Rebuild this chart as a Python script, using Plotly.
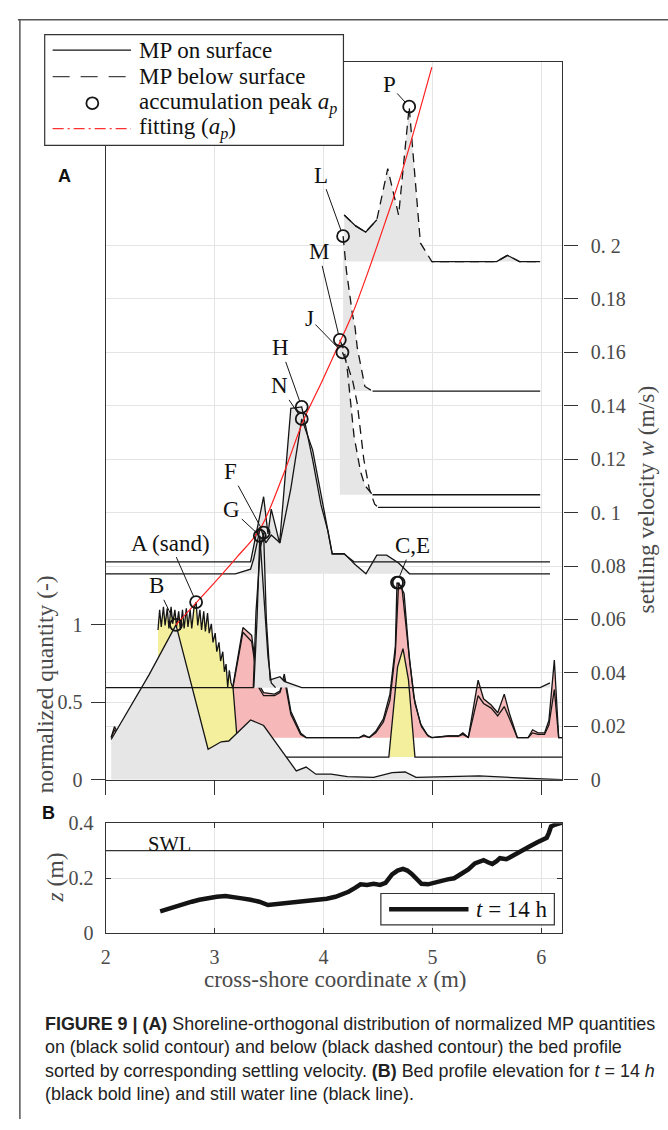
import plotly.graph_objects as go

FIG_W, FIG_H = 668, 1130

# ---------------- Panel A data ----------------
# 1 unit of normalized quantity (left axis) = 0.058 m/s on the settling-velocity axis (right)
W_PER_Q = 0.058
Q_TOP = 4.633
X_RANGE = [2.0, 6.195]

# settling velocity of every MP distribution (baseline), m/s
W_P, W_L, W_M, W_J = 0.194, 0.1455, 0.1067, 0.102
W_H, W_N, W_F, W_G = 0.0816, 0.0771, 0.0345, 0.0345
W_C, W_E, W_A, W_B = 0.0158, 0.0158, 0.0085, 0.0

# normalized quantities along the cross-shore coordinate
P_X = [4.19, 4.295, 4.387, 4.49, 4.59, 4.69, 4.787, 4.89, 4.995, 5.59, 5.69, 5.80, 5.99]
P_Q = [0.30, 0.23, 0.19, 0.27, 0.60, 0.30, 1.00, 0.12, 0.0, 0.0, 0.04, 0.0, 0.0]
PS_X = [4.19, 4.295, 4.387, 4.49, None, 4.995, 5.59, 5.69, 5.80, 5.99]
PS_Q = [0.30, 0.23, 0.19, 0.27, None, 0.0, 0.0, 0.04, 0.0, 0.0]

L_X = [4.18, 4.21, 4.265, 4.29, 4.31, 4.38, 4.45]
L_Q = [1.00, 0.78, 0.50, 0.41, 0.28, 0.03, 0.0]
LS_X = [4.45, 5.99]
LS_Q = [0.0, 0.0]

M_X = [4.15, 4.19, 4.22, 4.28, 4.34, 4.38, 4.45]
M_Q = [1.00, 0.93, 0.80, 0.38, 0.15, 0.06, 0.0]
MS_X = [4.45, 5.99]
MS_Q = [0.0, 0.0]

J_X = [4.174, 4.22, 4.27, 4.31, 4.37, 4.42, 4.47, 4.50]
J_Q = [1.00, 0.92, 0.81, 0.67, 0.31, 0.12, 0.02, 0.0]
JS_X = [4.50, 5.99]
JS_Q = [0.0, 0.0]

H_X = [2.0, 3.33, 3.36, 3.45, 3.49, 3.52, 3.597, 3.70, 3.80, 3.90, 3.976, 4.04, 4.08, 4.19, 4.28, 6.08]
H_Q = [0.0, 0.0, 0.105, 0.42, 0.18, 0.34, 0.12, 0.99, 1.00, 0.66, 0.37, 0.20, 0.05, 0.05, 0.0, 0.0]

N_X = [2.0, 3.19, 3.33, 3.36, 3.42, 3.47, 3.52, 3.60, 3.70, 3.80, 3.90, 3.98, 4.05, 4.08,
       4.19, 4.29, 4.39, 4.49, 4.58, 4.69, 4.79, 6.08]
N_Q = [0.0, 0.0, 0.03, 0.10, 0.30, 0.20, 0.25, 0.20, 0.55, 1.00, 0.80, 0.50, 0.26, 0.13,
       0.13, 0.06, 0.0, 0.12, 0.12, 0.07, 0.0, 0.0]

F_X = [2.0, 3.355, 3.38, 3.42, 3.45, 3.475, 3.51, 3.60, 3.64, 3.80, 5.99, 6.08]
F_Q = [0.0, 0.0, 0.49, 0.90, 1.00, 0.44, 0.05, 0.07, 0.04, 0.0, 0.0, 0.03]
G_X = [3.36, 3.39, 3.415, 3.45, 3.49, 3.52, 3.56]
G_Q = [0.0, 0.45, 0.98, 0.60, 0.20, 0.03, 0.0]

C_X = [2.05, 2.08, 2.12, 2.3, 2.6, 3.0, 3.16, 3.21, 3.26, 3.34, 3.40, 3.45, 3.55, 3.60, 3.64, 3.70,
       3.79, 3.84, 4.33, 4.37, 4.42, 4.48, 4.55, 4.61, 4.66, 4.675, 4.72, 4.78, 4.83, 4.89, 4.95,
       4.99, 5.15, 5.24, 5.28, 5.33, 5.42, 5.47, 5.54, 5.60, 5.66, 5.71, 5.75, 5.78, 5.88, 5.92,
       5.97, 6.03, 6.07, 6.12, 6.16, 6.19]
C_Q = [0.0, 0.07, 0.02, 0.10, 0.20, 0.30, 0.30, 0.50, 0.71, 0.66, 0.35, 0.29, 0.28, 0.30, 0.41, 0.17,
       0.03, 0.0, 0.0, 0.017, 0.0, 0.04, 0.12, 0.28, 0.59, 1.00, 0.97, 0.57, 0.26, 0.09, 0.02,
       0.0, 0.01, 0.01, 0.03, 0.0, 0.37, 0.25, 0.21, 0.16, 0.28, 0.15, 0.07, 0.0, 0.0, 0.05,
       0.03, 0.03, 0.11, 0.50, 0.0, 0.0]
E_X = [2.05, 2.08, 2.12, 2.3, 2.6, 3.0, 3.16, 3.21, 3.26, 3.34, 3.40, 3.45, 3.55, 3.60, 3.64, 3.70,
       3.79, 3.84, 4.33, 4.37, 4.42, 4.48, 4.55, 4.61, 4.66, 4.69, 4.74, 4.79, 4.84, 4.90, 4.96,
       5.0, 5.15, 5.24, 5.28, 5.33, 5.42, 5.47, 5.54, 5.60, 5.66, 5.71, 5.75, 5.78, 5.88, 5.92,
       5.97, 6.03, 6.07, 6.12, 6.16, 6.19]
E_Q = [0.0, 0.05, 0.01, 0.08, 0.18, 0.28, 0.29, 0.48, 0.68, 0.62, 0.33, 0.27, 0.27, 0.29, 0.38, 0.15,
       0.02, 0.0, 0.0, 0.01, 0.0, 0.03, 0.10, 0.24, 0.55, 1.00, 0.93, 0.50, 0.22, 0.07, 0.01,
       0.0, 0.01, 0.01, 0.02, 0.0, 0.27, 0.22, 0.19, 0.14, 0.20, 0.12, 0.05, 0.0, 0.0, 0.03,
       0.02, 0.02, 0.08, 0.31, 0.0, 0.0]

A_X = [2.48, 2.495, 2.51, 2.53, 2.545, 2.565, 2.58, 2.60, 2.615, 2.635, 2.65, 2.67, 2.685, 2.705,
       2.72, 2.74, 2.755, 2.775, 2.79, 2.81, 2.83, 2.845, 2.865, 2.88, 2.90, 2.915, 2.935, 2.95,
       2.97, 2.985, 3.005, 3.02, 3.04, 3.055, 3.075, 3.09, 3.105, 3.12, 3.135, 3.15, 3.17, 3.20,
       3.22, 4.60, 4.66, 4.68, 4.73, 4.78, 4.84, 6.19]
A_Q = [0.82, 0.95, 0.84, 0.97, 0.85, 0.96, 0.83, 0.97, 0.86, 0.95, 0.84, 0.94, 0.82, 0.95,
       0.83, 0.96, 0.84, 0.95, 0.83, 0.96, 1.00, 0.85, 0.95, 0.82, 0.94, 0.81, 0.93, 0.80,
       0.86, 0.74, 0.80, 0.68, 0.74, 0.62, 0.68, 0.55, 0.60, 0.45, 0.56, 0.48, 0.44, 0.20,
       0.0, 0.0, 0.45, 0.58, 0.70, 0.50, 0.0, 0.0]

B_X = [2.05, 2.40, 2.645, 2.94, 3.06, 3.13, 3.33, 3.45, 3.75, 3.84, 3.93, 4.07, 4.22, 4.46,
       4.63, 4.75, 4.85, 5.43, 5.9, 6.19]
B_Q = [0.26, 0.68, 1.00, 0.197, 0.245, 0.25, 0.386, 0.35, 0.057, 0.082, 0.036, 0.036, 0.02,
       0.015, 0.046, 0.05, 0.015, 0.025, 0.008, 0.0]

# fitting curve through accumulation peaks (plotted in left-axis units)
FIT_X = [2.643, 2.834, 3.005, 3.201, 3.415, 3.627, 3.809, 3.991, 4.146, 4.265, 4.418, 4.569, 4.721, 4.995]
FIT_Q = [1.000, 1.145, 1.277, 1.434, 1.616, 1.962, 2.308, 2.579, 2.818, 3.006, 3.296, 3.604, 3.925, 4.600]

LEFT_TICKS = [0, 0.5, 1]
RIGHT_TICKS = [0, 0.02, 0.04, 0.06, 0.08, 0.1, 0.12, 0.14, 0.16, 0.18, 0.2]
RIGHT_TICKTEXT = ["0", "0.02", "0.04", "0.06", "0.08", "0. 1", "0.12", "0.14", "0.16", "0.18", "0. 2"]
X_TICKS = [2, 3, 4, 5, 6]

# ---------------- Panel B data ----------------
BED_X = [2.50, 2.56, 2.63, 2.70, 2.79, 2.86, 2.94, 3.02, 3.10, 3.17, 3.25, 3.33, 3.41, 3.49, 3.56,
         3.64, 3.72, 3.80, 3.88, 3.95, 4.03, 4.11, 4.17, 4.23, 4.29, 4.34, 4.40, 4.46, 4.52, 4.57,
         4.63, 4.68, 4.73, 4.77, 4.81, 4.86, 4.90, 4.96, 5.02, 5.08, 5.14, 5.20, 5.27, 5.33, 5.39,
         5.43, 5.47, 5.51, 5.55, 5.59, 5.62, 5.68, 5.73, 5.78, 5.84, 5.90, 5.96, 6.01, 6.05, 6.07,
         6.09, 6.13, 6.19]
BED_Z = [0.080, 0.088, 0.097, 0.104, 0.115, 0.122, 0.129, 0.133, 0.136, 0.133, 0.127, 0.122, 0.115,
         0.103, 0.106, 0.107, 0.110, 0.115, 0.119, 0.123, 0.126, 0.133, 0.141, 0.151, 0.165, 0.178,
         0.176, 0.180, 0.176, 0.183, 0.214, 0.228, 0.234, 0.228, 0.216, 0.196, 0.180, 0.178, 0.185,
         0.192, 0.196, 0.200, 0.216, 0.232, 0.254, 0.262, 0.266, 0.258, 0.252, 0.262, 0.273, 0.269,
         0.281, 0.293, 0.305, 0.317, 0.330, 0.341, 0.347, 0.365, 0.388, 0.395, 0.402]
SWL_Z = 0.3
B_YTICKS = [0, 0.2, 0.4]

# ---------------- styling ----------------
SERIF = "Liberation Serif, Times New Roman, serif"
SANS = "Liberation Sans, Arial, sans-serif"
GREY_FILL = "#e6e6e6"
RED_FILL = "#f6b8b8"
YEL_FILL = "#f3ef9c"
LINE = "#151515"
DASH = "9px,6px"
TICKC = "#4a4a4a"
GRIDC = "#e4e4e4"


def px(x):
    return x / FIG_W


def py(y):
    return 1 - y / FIG_H


def base(w):
    return w / W_PER_Q


fig = go.Figure()


def add_fill(x, q, w, color):
    b = base(w)
    fig.add_trace(go.Scatter(
        x=list(x) + list(x[::-1]), y=[b + v for v in q] + [b] * len(x),
        fill="toself", fillcolor=color, mode="lines", line=dict(width=0, color=color),
        hoverinfo="skip", xaxis="x", yaxis="y"))


def add_line(x, q, w, dash="solid"):
    b = base(w)
    fig.add_trace(go.Scatter(
        x=x, y=[None if v is None else b + v for v in q], mode="lines",
        line=dict(color=LINE, width=1.3, dash=dash), connectgaps=False,
        hoverinfo="skip", xaxis="x", yaxis="y"))


# red (C, E)
add_fill(C_X, C_Q, W_C, RED_FILL)
add_fill(E_X, E_Q, W_E, RED_FILL)
add_line(C_X, C_Q, W_C)
add_line(E_X, E_Q, W_E)
# yellow sand (A)
add_fill(A_X, A_Q, W_A, YEL_FILL)
add_line(A_X, A_Q, W_A)
# grey B
add_fill(B_X, B_Q, W_B, GREY_FILL)
add_line(B_X, B_Q, W_B)
# F, G, H, N
add_fill(F_X, F_Q, W_F, GREY_FILL)
add_fill(G_X, G_Q, W_G, GREY_FILL)
add_fill(H_X, H_Q, W_H, GREY_FILL)
add_fill(N_X, N_Q, W_N, GREY_FILL)
add_line(H_X, H_Q, W_H)
add_line(N_X, N_Q, W_N)
add_line(F_X, F_Q, W_F)
add_line(G_X, G_Q, W_G)
# M, J, L, P
add_fill(M_X, M_Q, W_M, GREY_FILL)
add_fill(L_X, L_Q, W_L, GREY_FILL)
add_fill(P_X, P_Q, W_P, GREY_FILL)
add_line(MS_X, MS_Q, W_M)
add_line(JS_X, JS_Q, W_J)
add_line(LS_X, LS_Q, W_L)
add_line(PS_X, PS_Q, W_P)
add_line(M_X, M_Q, W_M, DASH)
add_line(J_X, J_Q, W_J, DASH)
add_line(L_X, L_Q, W_L, DASH)
add_line(P_X, P_Q, W_P, DASH)

# fitting curve
fig.add_trace(go.Scatter(x=FIT_X, y=FIT_Q, mode="lines", line=dict(color="#ff2020", width=1.2, shape="spline"),
                         hoverinfo="skip", xaxis="x", yaxis="y"))

# accumulation peaks
SERIES = [("A (sand)", A_X, A_Q, W_A, -26, -59), ("B", B_X, B_Q, W_B, -19, -39),
          ("C,E", C_X, C_Q, W_C, 15, -37), ("", E_X, E_Q, W_E, 0, 0),
          ("F", F_X, F_Q, W_F, -33, -61), ("G", G_X, G_Q, W_G, -28, -26),
          ("H", H_X, H_Q, W_H, -21, -59), ("N", N_X, N_Q, W_N, -22, -33),
          ("J", J_X, J_Q, W_J, -33, -34), ("M", M_X, M_Q, W_M, -21, -88),
          ("L", L_X, L_Q, W_L, -22, -61), ("P", P_X, P_Q, W_P, -20, -22)]
pk_x, pk_y = [], []
annotations = []
for lab, xs, qs, w, ax, ay in SERIES:
    i = max(range(len(qs)), key=lambda k: qs[k])
    xx, yy = xs[i], base(w) + qs[i]
    pk_x.append(xx)
    pk_y.append(yy)
    if lab:
        annotations.append(dict(x=xx, y=yy, xref="x", yref="y", text=lab, showarrow=True, arrowhead=0,
                                arrowwidth=1, arrowcolor=LINE, ax=ax, ay=ay, standoff=6,
                                xanchor="center", yanchor="middle",
                                font=dict(family=SERIF, size=23, color="#111")))
fig.add_trace(go.Scatter(x=pk_x, y=pk_y, mode="markers",
                         marker=dict(symbol="circle-open", size=12, color=LINE, line=dict(width=1.8, color=LINE)),
                         hoverinfo="skip", xaxis="x", yaxis="y"))
# anchor trace for the settling-velocity axis (invisible)
fig.add_trace(go.Scatter(x=[X_RANGE[0]], y=[W_B], mode="markers", marker=dict(size=1, opacity=0),
                         hoverinfo="skip", xaxis="x", yaxis="y2"))

# panel B
fig.add_trace(go.Scatter(x=X_RANGE, y=[SWL_Z, SWL_Z], mode="lines", line=dict(color="#333", width=1.3),
                         hoverinfo="skip", xaxis="x2", yaxis="y3"))
fig.add_trace(go.Scatter(x=BED_X, y=BED_Z, mode="lines", line=dict(color="#141414", width=4.5),
                         hoverinfo="skip", xaxis="x2", yaxis="y3"))

tickfont = dict(family=SERIF, size=20, color=TICKC)
XD = [px(101.5), px(561.7)]
fig.update_layout(
    width=FIG_W, height=FIG_H, margin=dict(l=0, r=0, t=0, b=0),
    paper_bgcolor="white", plot_bgcolor="white", showlegend=False,
    xaxis=dict(domain=XD, range=X_RANGE, anchor="y", tickvals=X_TICKS, showticklabels=False,
               ticks="outside", ticklen=14, tickwidth=1.2, tickcolor="#333", showgrid=True,
               gridcolor=GRIDC, gridwidth=1.3, showline=True, linecolor="#333", linewidth=1.3,
               mirror=True, zeroline=False),
    yaxis=dict(domain=[py(784), py(52)], range=[0, Q_TOP], anchor="x", tickvals=LEFT_TICKS,
               ticktext=["0", "0.5", "1"], ticks="outside", ticklen=14, tickwidth=1.2, tickcolor="#333",
               showgrid=True, gridcolor=GRIDC, gridwidth=1.3, showline=True, linecolor="#333",
               linewidth=1.3, zeroline=False, tickfont=tickfont, ticklabelstandoff=4),
    yaxis2=dict(overlaying="y", side="right", anchor="x", range=[0, Q_TOP * W_PER_Q],
                tickvals=RIGHT_TICKS, ticktext=RIGHT_TICKTEXT, ticks="outside", ticklen=14,
                tickwidth=1.2, tickcolor="#333", showgrid=True, gridcolor=GRIDC, gridwidth=1.3,
                showline=True, linecolor="#333", linewidth=1.3, zeroline=False, tickfont=tickfont,
                ticklabelstandoff=9),
    xaxis2=dict(domain=XD, range=X_RANGE, anchor="y3", tickvals=X_TICKS, ticks="inside", ticklen=5,
                tickcolor="#333", showgrid=True, gridcolor=GRIDC, gridwidth=1.3, showline=True,
                linecolor="#333", linewidth=1.3, mirror="ticks", zeroline=False, tickfont=tickfont,
                ticklabelstandoff=5),
    yaxis3=dict(domain=[py(940.7), py(828.3)], range=[0, 0.4], anchor="x2", tickvals=B_YTICKS,
                ticktext=["0", "0.2", "0.4"], ticks="inside", ticklen=5, tickcolor="#333", showgrid=True,
                gridcolor=GRIDC, gridwidth=1.3, showline=True, linecolor="#333", linewidth=1.3,
                mirror="ticks", zeroline=False, tickfont=tickfont, ticklabelstandoff=7),
)

shapes = []
# outer frame
shapes.append(dict(type="line", xref="paper", yref="paper", x0=px(13), x1=1.0, y0=py(9), y1=py(9),
                   line=dict(color="#555", width=1.5), layer="above"))
shapes.append(dict(type="line", xref="paper", yref="paper", x0=px(15), x1=px(15), y0=py(9), y1=0,
                   line=dict(color="#555", width=1.5), layer="above"))
# legend of panel A
shapes.append(dict(type="rect", xref="paper", yref="paper", x0=px(40), x1=px(341), y0=py(137), y1=py(24),
                   fillcolor="white", line=dict(color="#333", width=1.2), layer="above"))
shapes.append(dict(type="line", xref="paper", yref="paper", x0=px(48), x1=px(127), y0=py(40), y1=py(40),
                   line=dict(color=LINE, width=1.2), layer="above"))
shapes.append(dict(type="line", xref="paper", yref="paper", x0=px(48), x1=px(127), y0=py(67), y1=py(67),
                   line=dict(color="#444", width=1.3, dash="17px,11px"), layer="above"))
shapes.append(dict(type="circle", xref="paper", yref="paper", x0=px(82), x1=px(94), y0=py(100), y1=py(88),
                   line=dict(color=LINE, width=1.8), layer="above"))
shapes.append(dict(type="line", xref="paper", yref="paper", x0=px(48), x1=px(127), y0=py(120), y1=py(120),
                   line=dict(color="#ff3030", width=1.2, dash="11px,4px,2px,4px"), layer="above"))
# legend of panel B
shapes.append(dict(type="rect", xref="paper", yref="paper", x0=px(378.7), x1=px(553.5), y0=py(932),
                   y1=py(900), fillcolor="white", line=dict(color="#333", width=1.2), layer="above"))
shapes.append(dict(type="line", xref="paper", yref="paper", x0=px(387), x1=px(467), y0=py(916), y1=py(916),
                   line=dict(color="#141414", width=4.5), layer="above"))
fig.update_layout(shapes=shapes)


def note(xp, yp, text, font, xanchor="center", angle=0):
    annotations.append(dict(x=px(xp), y=py(yp), xref="paper", yref="paper", text=text, showarrow=False,
                            xanchor=xanchor, yanchor="middle", textangle=angle, font=font))


legfont = dict(family=SERIF, size=23, color="#111")
for yy, txt in [(40, "MP on surface"), (67, "MP below surface"),
                (94, "accumulation peak <i>a</i><sub><i>p</i></sub>"),
                (120, "fitting (<i>a</i><sub><i>p</i></sub>)")]:
    note(133, yy, txt, legfont, xanchor="left")
note(473, 916, "<i>t</i> = 14 h", legfont, xanchor="left")
note(166, 850, "SWL", dict(family=SERIF, size=20.5, color="#111"))
# panel letters
note(60, 168, "<b>A</b>", dict(family=SANS, size=18, color="#111"))
note(44, 818, "<b>B</b>", dict(family=SANS, size=18, color="#111"))
# axis titles
titlefont = dict(family=SERIF, size=23.5, color=TICKC)
note(40, 687, "normalized quantity (-)", titlefont, angle=-90)
note(646, 498, "settling velocity <i>w</i> (m/s)", titlefont, angle=-90)
note(50, 884, "<i>z</i> (m)", titlefont, angle=-90)
note(333, 988, "cross-shore coordinate <i>x</i> (m)", dict(family=SERIF, size=23, color=TICKC))
# caption
capfont = dict(family="Liberation Sans, Arial, sans-serif", size=17.9, color="#222")
CAPTION = [
    "<b>FIGURE 9 | (A)</b> Shoreline-orthogonal distribution of normalized MP quantities",
    "on (black solid contour) and below (black dashed contour) the bed profile",
    "sorted by corresponding settling velocity. <b>(B)</b> Bed profile elevation for <i>t</i> = 14 <i>h</i>",
    "(black bold line) and still water line (black line).",
]
for k, line in enumerate(CAPTION):
    note(38, 1033 + 24 * k, line, capfont, xanchor="left")
fig.update_layout(annotations=annotations)

fig.write_html("out.html", config={"displayModeBar": False},
               post_script="document.body.style.margin='0';document.body.style.overflow='hidden';")
